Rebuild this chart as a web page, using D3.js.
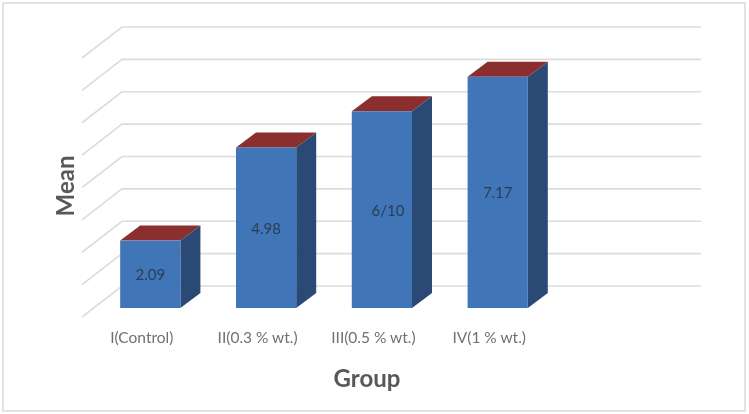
<!DOCTYPE html>
<html><head><meta charset="utf-8">
<script src="https://cdnjs.cloudflare.com/ajax/libs/d3/7.8.5/d3.min.js"></script>
<style>html,body{margin:0;padding:0;background:#fff}svg{display:block}</style>
</head><body><svg id="c" width="749" height="414"></svg>
<script>
const categories = ["I(Control)", "II(0.3 % wt.)", "III(0.5 % wt.)", "IV(1 % wt.)"];
const slots = [...categories, "blank"];
const values = [2.09, 4.98, 6.10, 7.17];
const valueLabels = ["2.09", "4.98", "6/10", "7.17"];
const gridValues = [0, 1, 2, 3, 4, 5, 6, 7, 8];
const xTitle = "Group";
const yTitle = "Mean";

const svg = d3.select("#c");
const font = "Lato, sans-serif";
const blur = svg.append("defs").append("filter").attr("id", "soft")
  .attr("x", 0).attr("y", 0)
  .attr("filterUnits", "userSpaceOnUse").attr("width", 749).attr("height", 414);
blur.append("feGaussianBlur").attr("stdDeviation", 0.45);

const root = svg.append("g").attr("filter", "url(#soft)");

const depth = { dx: -40, dy: 30 };
const y = d3.scaleLinear().domain([0, 8]).range([286, 27]);
const yFront = d3.scaleLinear().domain([0, 8]).range([308, 50]);
const x = d3.scaleBand().domain(slots).range([81.7, 660.7]).paddingInner(0.48).paddingOuter(0.24);
const barShift = 10.7;
const barDepth = { dx: 20, dy: -15 };

root.append("rect").attr("x", 0).attr("y", 0).attr("width", 749).attr("height", 414).attr("fill", "#fff");
root.append("rect").attr("x", 3).attr("y", 3).attr("width", 742).attr("height", 408)
  .attr("fill", "#fff").attr("stroke", "#e2e2e2").attr("stroke-width", 2);

const grid = root.append("g").attr("fill", "none").attr("stroke", "#dcdcdc").attr("stroke-width", 1.6);
grid.selectAll("path").data(gridValues).join("path")
  .attr("d", d => {
    const p = d3.path();
    p.moveTo(122 + depth.dx, y(d) + depth.dy + 1);
    p.lineTo(122, y(d));
    p.lineTo(701, y(d));
    return p.toString();
  });

const bars = root.append("g").selectAll("g").data(categories).join("g");
const xL = c => x(c) + barShift;
const xR = c => xL(c) + x.bandwidth();
const xC = c => xL(c) + x.bandwidth() / 2;
const pts = a => a.map(p => p.join(",")).join(" ");
bars.append("polygon").attr("fill", "#2a4a74")
  .attr("points", (c, i) => pts([
    [xR(c), yFront(values[i])],
    [xR(c) + barDepth.dx, yFront(values[i]) + barDepth.dy],
    [xR(c) + barDepth.dx, yFront(0) + barDepth.dy],
    [xR(c), yFront(0)]]));
bars.append("polygon").attr("fill", "#8a2f2e")
  .attr("points", (c, i) => pts([
    [xL(c), yFront(values[i])],
    [xL(c) + barDepth.dx, yFront(values[i]) + barDepth.dy],
    [xR(c) + barDepth.dx, yFront(values[i]) + barDepth.dy],
    [xR(c), yFront(values[i])]]));
bars.append("rect").attr("fill", "#4174b8")
  .attr("x", c => xL(c)).attr("width", x.bandwidth())
  .attr("y", (c, i) => yFront(values[i]))
  .attr("height", (c, i) => yFront(0) - yFront(values[i]));
bars.append("text").attr("text-anchor", "middle").attr("font-family", font)
  .attr("font-size", 15).attr("fill", "#2b3d55")
  .attr("x", (c, i) => xC(c) + (i === 2 ? 6 : 0))
  .attr("y", (c, i) => (yFront(values[i]) + yFront(0)) / 2 + 6)
  .text((c, i) => valueLabels[i]);

root.append("g").selectAll("text").data(categories).join("text")
  .attr("text-anchor", "middle").attr("font-family", font).attr("font-size", 15.5)
  .attr("fill", "#707070")
  .attr("x", c => xC(c) - 8.5).attr("y", 343)
  .text(c => c);

root.append("text").attr("text-anchor", "middle").attr("font-family", font)
  .attr("font-size", 24).attr("font-weight", 700).attr("fill", "#585858")
  .attr("x", 367).attr("y", 387).text(xTitle);
root.append("text").attr("text-anchor", "middle").attr("font-family", font)
  .attr("font-size", 24).attr("font-weight", 700).attr("fill", "#585858")
  .attr("transform", "translate(74,186) rotate(-90)").text(yTitle);
</script></body></html>
